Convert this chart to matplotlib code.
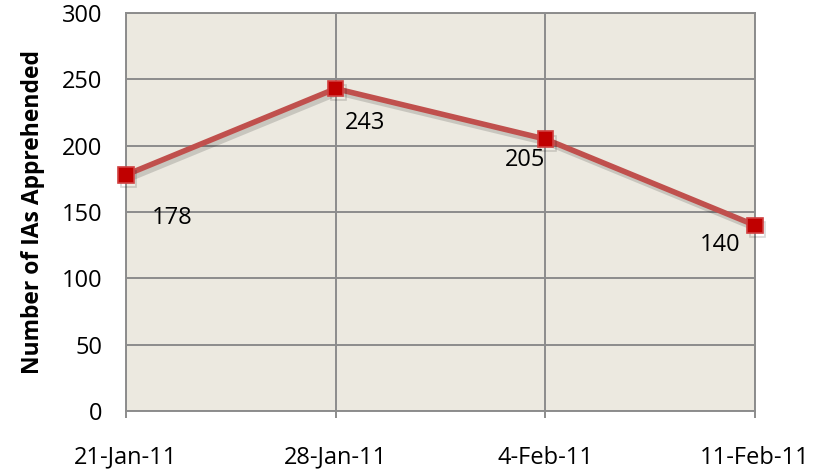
import matplotlib
matplotlib.use("Agg")
import matplotlib.pyplot as plt
import matplotlib.patheffects as pe

dates = ["21-Jan-11", "28-Jan-11", "4-Feb-11", "11-Feb-11"]
apprehended = [178, 243, 205, 140]
# label offsets from the point, in points
label_offsets = [(33, -31), (21, -24.5), (-14.5, -15), (-25, -14.5)]

plt.rcParams["font.family"] = ["Open Sans", "DejaVu Sans"]

fig = plt.figure(figsize=(8.17, 4.70), dpi=100)
ax = fig.add_axes([0.1542, 0.1255, 0.7699, 0.8468])
ax.set_facecolor("#ECE9E0")

x = list(range(len(dates)))
shadow = [pe.SimpleLineShadow(offset=(2, -3), shadow_color="black", alpha=0.15, rho=1), pe.Normal()]
ax.plot(x, apprehended, color="#C0504D", lw=4, marker="s", markersize=11,
        markerfacecolor="#C00000", markeredgecolor="#D04040", markeredgewidth=1.2,
        path_effects=shadow, zorder=3, clip_on=False)

for xi, v, (dx, dy) in zip(x, apprehended, label_offsets):
    ax.annotate(str(v), (xi, v), xytext=(dx, dy), textcoords="offset points",
                fontsize=17, ha="center", va="center")

ax.set_xlim(0, 3)
ax.set_ylim(0, 300)
ax.set_yticks(range(0, 301, 50))
ax.set_xticks(x)
ax.set_xticklabels(dates)
ax.grid(True, color="#8C8C8C", lw=1.4)
ax.set_axisbelow(True)
for s in ax.spines.values():
    s.set_color("#8C8C8C")
    s.set_linewidth(1.4)
ax.tick_params(axis="x", length=5, width=1.4, color="#8C8C8C", labelsize=17, pad=20)
ax.tick_params(axis="y", length=0, labelsize=17, pad=17)
ax.set_ylabel("Number of IAs Apprehended", fontsize=16.5, fontweight="bold", labelpad=12)

fig.savefig("out.png", dpi=100)
